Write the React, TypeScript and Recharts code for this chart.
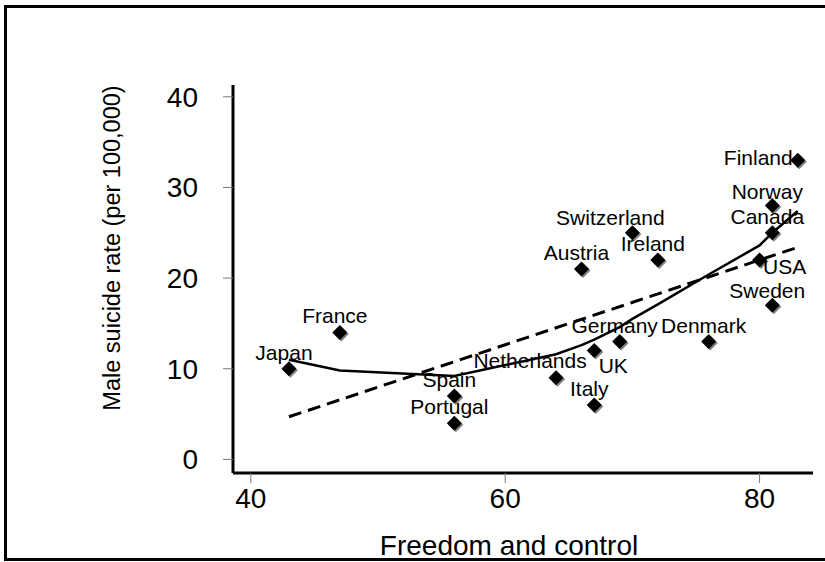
import { ScatterChart, Scatter, XAxis, YAxis, Label } from 'recharts';

// country scatter
const COUNTRIES = ['Japan', 'France', 'Spain', 'Portugal', 'Netherlands', 'Italy', 'UK', 'Germany', 'Denmark',
  'Finland', 'Norway', 'Canada', 'USA', 'Sweden', 'Switzerland', 'Ireland', 'Austria'];
const FREEDOM = [43, 47, 56, 56, 64, 67, 67, 69, 76, 83, 81, 81, 80, 81, 70, 72, 66];
const SUICIDE = [10, 14, 7, 4, 9, 6, 12, 13, 13, 33, 28, 25, 22, 17, 25, 22, 21];

// lowess smoother (solid)
const LOWESS_X = [43, 47, 56, 64, 66, 67, 69, 70, 72, 76, 80, 81, 83];
const LOWESS_Y = [11.0, 9.8, 9.2, 11.6, 12.6, 13.2, 14.6, 15.5, 17.1, 20.4, 23.6, 25.0, 27.4];

// linear fit (dashed)
const FIT_X = [43, 83];
const FIT_Y = [4.7, 23.4];

const X_TICKS = [40, 60, 80];
const Y_TICKS = [0, 10, 20, 30, 40];

const points = COUNTRIES.map((name, i) => ({ name, x: FREEDOM[i], y: SUICIDE[i] }));
const lowess = LOWESS_X.map((x, i) => ({ x, y: LOWESS_Y[i] }));
const fit = FIT_X.map((x, i) => ({ x, y: FIT_Y[i] }));

// where each label sits relative to its marker (default: just above)
const LABEL_OFFSETS: Record<string, { dx: number; dy: number; anchor?: string }> = {
  Finland: { dx: -5, dy: 5, anchor: 'end' },
  Netherlands: { dx: -26, dy: -10 },
  Switzerland: { dx: -22, dy: -8 },
  UK: { dx: 19, dy: 22 },
  USA: { dx: 25, dy: 14 },
  Sweden: { dx: -5, dy: -7 },
  Norway: { dx: -5, dy: -7 },
};

const FONT = '"Liberation Sans", Arial, sans-serif';

const Diamond = (props: any) => {
  const { cx, cy, payload } = props;
  const r = 7.5;
  const pts = (ox: number, oy: number) =>
    `${cx + ox},${cy - r + oy} ${cx + r + ox},${cy + oy} ${cx + ox},${cy + r + oy} ${cx - r + ox},${cy + oy}`;
  const off = LABEL_OFFSETS[payload.name] || { dx: -5, dy: -9 };
  return (
    <g>
      <polygon points={pts(1.5, 1.5)} fill="#808080" />
      <polygon points={pts(0, 0)} fill="#000" />
      <text
        x={cx + off.dx}
        y={cy + off.dy}
        textAnchor={off.anchor || 'middle'}
        fontSize={21}
        fontFamily={FONT}
        fill="#000"
      >
        {payload.name}
      </text>
    </g>
  );
};

const tickStyle = { fill: '#000', fontSize: 28, fontFamily: FONT };

export default function App() {
  return (
    <div style={{ position: 'absolute', left: 0, top: 0, width: 825, height: 562, overflow: 'hidden', background: '#fff' }}>
      <div
        style={{
          position: 'absolute', left: 4, top: 5, width: 830, height: 550,
          borderTop: '3px solid #000', borderLeft: '3px solid #000', borderBottom: '3px solid #000',
        }}
      />
      <div style={{ position: 'absolute', left: 0, top: 0 }}>
        <ScatterChart width={825} height={562} margin={{ top: 85, right: 12, bottom: 29, left: 133 }}>
          <XAxis
            type="number"
            dataKey="x"
            domain={[38.6, 84.2]}
            allowDataOverflow
            ticks={X_TICKS}
            height={60}
            tickSize={10}
            tickMargin={5}
            tick={tickStyle}
            axisLine={{ stroke: '#000', strokeWidth: 3 }}
            tickLine={{ stroke: '#777', strokeWidth: 1 }}
          >
            <Label
              content={() => (
                <text x={509} y={555} textAnchor="middle" fontSize={28} fontFamily={FONT} fill="#000">
                  Freedom and control
                </text>
              )}
            />
          </XAxis>
          <YAxis
            type="number"
            dataKey="y"
            domain={[-1.5, 41.3]}
            allowDataOverflow
            ticks={Y_TICKS}
            width={100}
            tickSize={10}
            tickMargin={25}
            tick={tickStyle}
            axisLine={{ stroke: '#000', strokeWidth: 3 }}
            tickLine={{ stroke: '#777', strokeWidth: 1 }}
          >
            <Label
              content={() => (
                <text
                  x={120}
                  y={248}
                  transform="rotate(-90 120 248)"
                  textAnchor="middle"
                  fontSize={23.5}
                  fontFamily={FONT}
                  fill="#000"
                >
                  Male suicide rate (per 100,000)
                </text>
              )}
            />
          </YAxis>
          <Scatter data={points} shape={Diamond} isAnimationActive={false} />
          <Scatter
            data={fit}
            line={{ stroke: '#000', strokeWidth: 3, strokeDasharray: '13 7' }}
            shape={() => <g />}
            isAnimationActive={false}
          />
          <Scatter
            data={lowess}
            line={{ stroke: '#000', strokeWidth: 2.5 }}
            shape={() => <g />}
            isAnimationActive={false}
          />
        </ScatterChart>
      </div>
    </div>
  );
}
